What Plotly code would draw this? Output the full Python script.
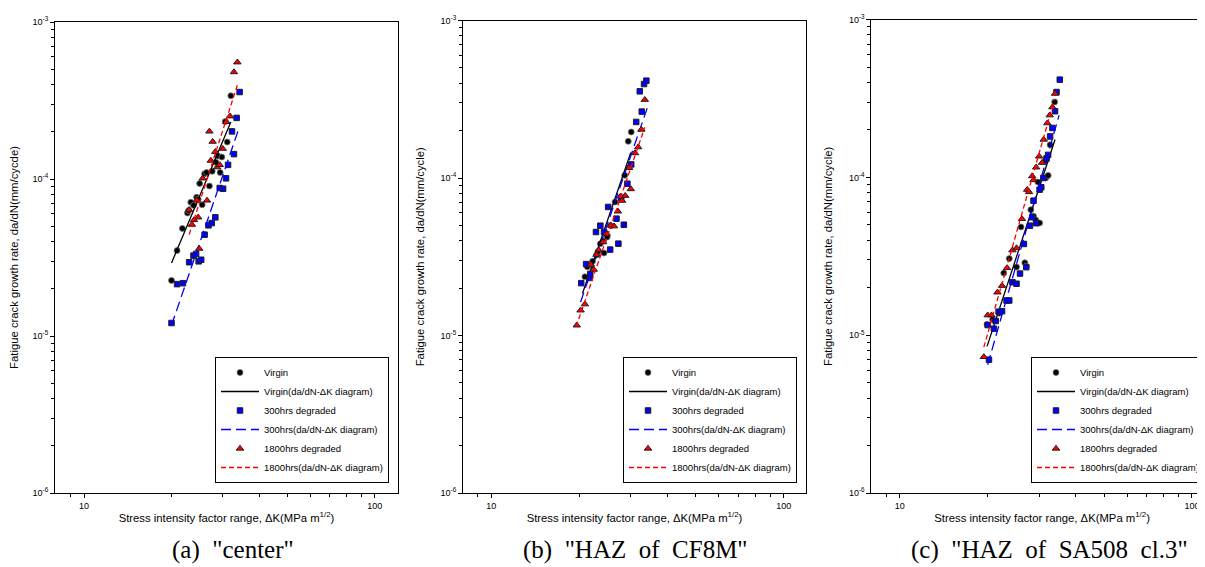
import plotly.graph_objects as go

# ---------------- Panel (a) "center" ----------------
a_virgin_dk = [20.0, 20.9, 21.8, 22.7, 22.9, 23.3, 23.8, 24.4, 24.7, 25.0, 25.5, 26.0,
               26.4, 27.0, 27.6, 28.4, 28.9, 29.4, 29.8, 30.6, 31.1, 32.0]
a_virgin_rate = [2.26e-5, 3.50e-5, 4.84e-5, 6.07e-5, 6.30e-5, 7.11e-5, 6.80e-5, 7.64e-5,
                 7.43e-5, 9.36e-5, 6.86e-5, 1.08e-4, 1.10e-4, 9.02e-5, 1.12e-4, 1.28e-4,
                 1.40e-4, 1.10e-4, 1.38e-4, 2.32e-4, 1.72e-4, 3.39e-4]
a_300_dk = [20.0, 20.9, 21.9, 23.0, 23.8, 24.3, 24.8, 25.3, 26.0, 26.8, 27.5, 28.3,
            29.3, 30.1, 30.8, 31.3, 32.3, 32.8, 33.5, 34.3]
a_300_rate = [1.21e-5, 2.14e-5, 2.17e-5, 2.95e-5, 3.25e-5, 3.33e-5, 2.99e-5, 3.06e-5,
              4.42e-5, 5.07e-5, 5.24e-5, 5.70e-5, 8.76e-5, 8.67e-5, 1.01e-4, 1.23e-4,
              2.01e-4, 1.44e-4, 2.45e-4, 3.58e-4]
a_1800_dk = [23.0, 23.5, 23.9, 24.4, 24.7, 24.9, 25.6, 26.5, 27.0, 27.3, 27.7, 28.3,
             28.7, 29.3, 30.0, 30.9, 31.8, 32.8, 33.7]
a_1800_rate = [6.37e-5, 5.12e-5, 5.48e-5, 7.31e-5, 5.70e-5, 3.60e-5, 1.01e-4, 7.30e-5,
               2.01e-4, 1.31e-4, 1.73e-4, 1.49e-4, 1.19e-4, 1.23e-4, 1.56e-4, 2.31e-4,
               2.51e-4, 4.80e-4, 5.54e-4]
a_fit_virgin_dk = [20.0, 32.0]
a_fit_virgin_rate = [2.92e-5, 2.31e-4]
a_fit_300_dk = [20.0, 34.2]
a_fit_300_rate = [1.17e-5, 2.13e-4]
a_fit_1800_dk = [23.0, 33.8]
a_fit_1800_rate = [4.42e-5, 4.03e-4]

# ---------------- Panel (b) "HAZ of CF8M" ----------------
b_virgin_dk = [20.9, 21.3, 22.2, 22.9, 23.2, 23.6, 24.2, 24.3, 24.7, 24.9, 25.6, 26.5,
               28.6, 29.4, 30.1]
b_virgin_rate = [2.36e-5, 2.73e-5, 2.96e-5, 3.24e-5, 3.42e-5, 3.83e-5, 3.98e-5, 3.34e-5,
                 4.43e-5, 4.22e-5, 4.98e-5, 7.04e-5, 1.04e-4, 1.71e-4, 1.96e-4]
b_300_dk = [20.3, 21.1, 21.7, 21.8, 22.8, 23.6, 24.3, 25.1, 25.5, 26.8, 27.2, 27.8,
            28.4, 29.2, 30.1, 31.3, 32.7, 32.2, 33.3, 33.9]
b_300_rate = [2.15e-5, 2.84e-5, 2.32e-5, 2.46e-5, 4.54e-5, 4.98e-5, 4.54e-5, 6.55e-5,
              3.51e-5, 5.52e-5, 3.83e-5, 7.46e-5, 5.05e-5, 9.20e-5, 1.22e-4, 2.27e-4,
              2.64e-4, 3.55e-4, 3.95e-4, 4.15e-4]
b_1800_dk = [19.6, 20.2, 20.9, 21.9, 22.4, 22.9, 23.3, 24.1, 24.8, 25.6, 26.3, 27.1,
             27.7, 28.0, 28.7, 30.0, 29.6, 31.0, 31.8, 32.6, 33.5]
b_1800_rate = [1.16e-5, 1.445e-5, 1.58e-5, 2.82e-5, 2.62e-5, 3.26e-5, 3.49e-5, 3.92e-5,
               4.43e-5, 5.01e-5, 4.94e-5, 6.14e-5, 7.65e-5, 7.18e-5, 7.72e-5, 8.51e-5,
               1.16e-4, 1.44e-4, 1.57e-4, 2.03e-4, 3.14e-4]
b_fit_virgin_dk = [20.5, 30.0]
b_fit_virgin_rate = [1.85e-5, 1.45e-4]
b_fit_300_dk = [20.2, 34.2]
b_fit_300_rate = [1.63e-5, 2.81e-4]
b_fit_1800_dk = [19.5, 33.5]
b_fit_1800_rate = [1.14e-5, 2.10e-4]

# ---------------- Panel (c) "HAZ of SA508 cl.3" ----------------
c_virgin_dk = [19.9, 20.8, 21.9, 22.7, 23.7, 25.1, 26.0, 26.8, 27.1, 28.1, 28.7, 29.2,
               29.7, 30.1, 29.7, 31.6, 32.2, 31.5, 32.7, 33.9]
c_virgin_rate = [1.17e-5, 1.26e-5, 1.38e-5, 2.48e-5, 3.06e-5, 2.71e-5, 4.86e-5, 2.88e-5,
                 2.74e-5, 6.25e-5, 5.68e-5, 5.38e-5, 5.15e-5, 5.15e-5, 9.36e-5, 9.93e-5,
                 1.03e-4, 1.27e-4, 1.61e-4, 3.01e-4]
c_300_dk = [20.2, 20.0, 21.0, 21.3, 21.8, 22.4, 23.2, 23.7, 24.3, 25.1, 25.8, 27.1,
            26.6, 27.9, 29.3, 28.4, 28.7, 30.1, 30.5, 31.0, 31.8, 32.2, 32.7, 33.3,
            34.0, 34.4, 35.3]
c_300_rate = [7.0e-6, 1.16e-5, 1.10e-5, 1.23e-5, 1.41e-5, 1.42e-5, 1.66e-5, 1.66e-5,
              2.17e-5, 2.12e-5, 2.46e-5, 2.70e-5, 3.79e-5, 4.95e-5, 5.13e-5, 5.60e-5,
              7.13e-5, 8.37e-5, 8.67e-5, 9.93e-5, 1.32e-4, 1.39e-4, 1.82e-4, 2.06e-4,
              2.63e-4, 3.48e-4, 4.17e-4]
c_1800_dk = [19.4, 20.0, 20.6, 21.6, 22.4, 23.3, 24.3, 25.1, 26.2, 27.3, 27.7, 28.4,
             28.7, 29.3, 30.0, 30.7, 31.1, 32.0, 32.6, 33.3, 34.0]
c_1800_rate = [7.29e-6, 1.34e-5, 1.34e-5, 1.87e-5, 2.06e-5, 2.67e-5, 3.46e-5, 3.57e-5,
               5.46e-5, 8.37e-5, 8.09e-5, 1.02e-4, 9.64e-5, 1.16e-4, 1.36e-4, 1.24e-4,
               1.74e-4, 2.21e-4, 2.48e-4, 2.79e-4, 3.40e-4]
c_fit_virgin_dk = [19.9, 34.0]
c_fit_virgin_rate = [8.5e-6, 1.74e-4]
c_fit_300_dk = [20.0, 35.1]
c_fit_300_rate = [6.5e-6, 2.48e-4]
c_fit_1800_dk = [19.4, 33.8]
c_fit_1800_rate = [8.4e-6, 3.1e-4]

# ---------------- labels ----------------
series_names = ["Virgin", "Virgin(da/dN-\u0394K diagram)",
                "300hrs degraded", "300hrs(da/dN-\u0394K diagram)",
                "1800hrs degraded", "1800hrs(da/dN-\u0394K diagram)"]
x_title = "Stress intensity factor range, \u0394K(MPa m<sup>1/2</sup>)"
y_titles = ["Fatigue crack growth rate, da/dN(mm/cycde)",
            "Fatigue crack growth rate, da/dN(mm/cycle)",
            "Fatigue crack growth rate, da/dN(mm/cycle)"]
captions = ['(a)\u00a0\u00a0"center"',
            '(b)\u00a0\u00a0"HAZ\u00a0\u00a0of\u00a0\u00a0CF8M"',
            '(c)\u00a0\u00a0"HAZ\u00a0\u00a0of\u00a0\u00a0SA508\u00a0\u00a0cl.3"']
x_major = [10, 100]
x_major_text = ["10", "100"]
x_minor = [9, 20, 30, 40, 50, 60, 70, 80, 90]
y_major = [1e-6, 1e-5, 1e-4, 1e-3]
y_major_text = ["10<sup>-6</sup>", "10<sup>-5</sup>", "10<sup>-4</sup>", "10<sup>-3</sup>"]
y_minor = [k * 10.0 ** e for e in (-6, -5, -4) for k in range(2, 10)]

# ---------------- layout geometry (pixels in a 1205x567 page) ----------------
W, H = 1205, 567
FONT = "Arial, Liberation Sans, sans-serif"
SERIF = "Times New Roman, Liberation Serif, serif"

def fx(p):
    return p / W

def fy(p):
    return 1 - p / H

panels = [
    dict(xd=(47, 390), yd=(14, 485), xr=(0.9002, 2.0802),
         legend_left=207, cap_x=225,
         data=[(a_virgin_dk, a_virgin_rate), (a_fit_virgin_dk, a_fit_virgin_rate),
               (a_300_dk, a_300_rate), (a_fit_300_dk, a_fit_300_rate),
               (a_1800_dk, a_1800_rate), (a_fit_1800_dk, a_fit_1800_rate)]),
    dict(xd=(455, 798), yd=(12.5, 485), xr=(0.9032, 2.0763),
         legend_left=615, cap_x=627,
         data=[(b_virgin_dk, b_virgin_rate), (b_fit_virgin_dk, b_fit_virgin_rate),
               (b_300_dk, b_300_rate), (b_fit_300_dk, b_fit_300_rate),
               (b_1800_dk, b_1800_rate), (b_fit_1800_dk, b_fit_1800_rate)]),
    dict(xd=(863.3, 1205), yd=(11.7, 485), xr=(0.9028, 2.0719),
         legend_left=1023, cap_x=1041,
         data=[(c_virgin_dk, c_virgin_rate), (c_fit_virgin_dk, c_fit_virgin_rate),
               (c_300_dk, c_300_rate), (c_fit_300_dk, c_fit_300_rate),
               (c_1800_dk, c_1800_rate), (c_fit_1800_dk, c_fit_1800_rate)]),
]

styles = [
    dict(mode="markers", marker=dict(symbol="circle", size=6, color="#000000",
                                     line=dict(width=0.8, color="#7a7a7a"))),
    dict(mode="lines", line=dict(color="#000000", width=1.3, dash="solid")),
    dict(mode="markers", marker=dict(symbol="square", size=5.5, color="#0000ff",
                                     line=dict(width=1, color="#1e1e1e"))),
    dict(mode="lines", line=dict(color="#0000ff", width=1.3, dash="10px,5px")),
    dict(mode="markers", marker=dict(symbol="triangle-up", size=6.5, color="#ff0000",
                                     line=dict(width=1, color="#1e1e1e"))),
    dict(mode="lines", line=dict(color="#ff0000", width=1.3, dash="5px,3px")),
]

fig = go.Figure()
layout = dict(width=W, height=H, margin=dict(l=0, r=0, t=0, b=0),
              paper_bgcolor="white", plot_bgcolor="white",
              font=dict(family=FONT, color="black"), annotations=[])

for i, p in enumerate(panels):
    sfx = "" if i == 0 else str(i + 1)
    xa, ya = "x" + sfx, "y" + sfx
    lg = "legend" + sfx
    for k, (xs, ys) in enumerate(p["data"]):
        fig.add_trace(go.Scatter(x=xs, y=ys, name=series_names[k], xaxis=xa, yaxis=ya,
                                 legend=lg, showlegend=True, hoverinfo="skip",
                                 **styles[k]))
    layout["xaxis" + sfx] = dict(
        type="log", domain=[fx(p["xd"][0]), fx(p["xd"][1])], range=list(p["xr"]),
        anchor=ya, showline=True, linecolor="black", linewidth=1, mirror=True,
        showgrid=False, zeroline=False,
        tickmode="array", tickvals=x_major, ticktext=x_major_text,
        ticks="outside", ticklen=4, tickwidth=1, tickcolor="black",
        minor=dict(tickmode="array", tickvals=x_minor, ticks="outside", ticklen=3,
                   tickwidth=1, tickcolor="black", showgrid=False),
        tickfont=dict(size=9, family=FONT, color="black"),
        title=dict(text=x_title, font=dict(size=11.3, family=FONT, color="black"), standoff=4),
        automargin=False)
    layout["yaxis" + sfx] = dict(
        type="log", domain=[fy(p["yd"][1]), fy(p["yd"][0])], range=[-6, -3],
        anchor=xa, showline=True, linecolor="black", linewidth=1, mirror=True,
        showgrid=False, zeroline=False,
        tickmode="array", tickvals=y_major, ticktext=y_major_text,
        ticks="outside", ticklen=4, tickwidth=1, tickcolor="black",
        minor=dict(tickmode="array", tickvals=y_minor, ticks="outside", ticklen=3,
                   tickwidth=1, tickcolor="black", showgrid=False),
        tickfont=dict(size=9, family=FONT, color="black"),
        title=dict(text=y_titles[i], font=dict(size=11.3, family=FONT, color="black"), standoff=13),
        automargin=False)
    layout[lg] = dict(
        x=fx(p["legend_left"]), y=fy(475), xanchor="left", yanchor="bottom",
        xref="paper", yref="paper",
        bgcolor="white", bordercolor="black", borderwidth=1,
        font=dict(size=9.5, family=FONT, color="black"),
        itemwidth=38, tracegroupgap=0, traceorder="normal")
    layout["annotations"].append(dict(
        text=captions[i], x=fx(p["cap_x"]), y=fy(542), xref="paper", yref="paper",
        xanchor="center", yanchor="middle", showarrow=False,
        font=dict(size=25, family=SERIF, color="black")))

fig.update_layout(**layout)
fig.write_html("out.html")
